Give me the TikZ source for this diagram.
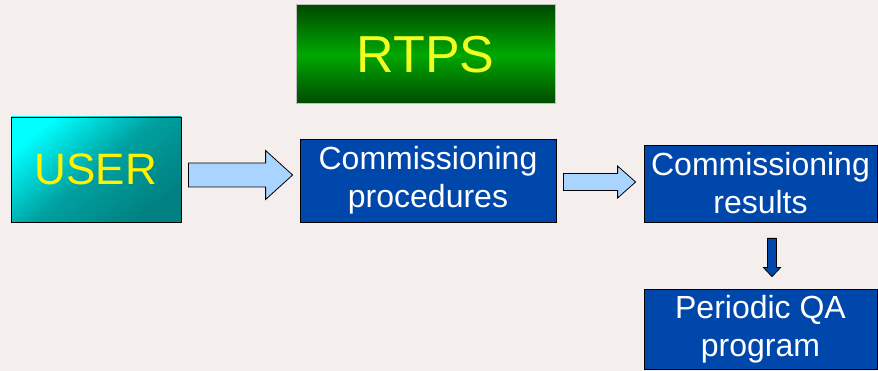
\documentclass[tikz,border=0pt]{standalone}
\usepackage{fontspec}
\setmainfont{Liberation Sans}
\usetikzlibrary{calc,positioning}
\definecolor{Paper}{HTML}{F4EFEC}
\definecolor{BoxBlue}{HTML}{0047AB}
\definecolor{ArrBlue}{HTML}{A8D4FF}
\definecolor{Lemon}{HTML}{F0FF20}
\definecolor{GreenHi}{HTML}{00A800}
\definecolor{GreenLo}{HTML}{004A00}
\definecolor{TealLo}{HTML}{008080}
\begin{document}
\begin{tikzpicture}[x=1pt,y=-1pt,
    box/.style={draw=black,fill=BoxBlue,text=white,align=center,inner sep=0pt,
      font=\fontsize{32}{38}\selectfont,line width=0.8pt},
    fat/.style={draw=black,fill=ArrBlue,line width=0.8pt,line join=miter}]
  \fill[Paper] (0,0) rectangle (878,371);
  \useasboundingbox (0,0) rectangle (878,371);
  % top banner
  \node[draw=gray!50,line width=1pt,top color=GreenLo,bottom color=GreenLo,
    middle color=GreenHi,minimum width=259pt,minimum height=99pt,text=Lemon,
    font=\fontsize{52}{52}\selectfont] (rtps) at (425.5,54.5) {RTPS};
  % boxes
  \node[draw=black,line width=0.8pt,top color=cyan,bottom color=TealLo,
    middle color=TealLo!75!cyan,shading angle=40,minimum width=170pt,minimum height=105pt,
    text=yellow,font=\fontsize{44}{44}\selectfont] (user) at (96,169.5) {USER};
  \node[box,minimum width=256pt,minimum height=83pt] (proc) at (428,180.5)
    {Commissioning\\procedures};
  \node[box,minimum width=233pt,minimum height=77pt] (res) at (760.5,183.5)
    {Commissioning\\results};
  \node[box,minimum width=233pt,minimum height=80pt] (qa) at (760.5,329)
    {Periodic QA\\program};
  % block arrows
  \draw[fat] let \p1=($(user.east)+(7,0)$), \p2=($(proc.west)+(-7,0)$),
      \p3=($(user.east)!0.5!(proc.west)$) in
    (\x1,\y3+12pt) -- (\x2-27pt,\y3+12pt) -- (\x2-27pt,\y3+24.5pt) -- (\x2,\y3)
    -- (\x2-27pt,\y3-24.5pt) -- (\x2-27pt,\y3-12pt) -- (\x1,\y3-12pt) -- cycle;
  \draw[fat] let \p1=($(proc.east)+(7,0)$), \p2=($(res.west)+(-8,0)$),
      \p3=($(proc.east)!0.5!(res.west)$) in
    (\x1,\y3+8.5pt) -- (\x2-18pt,\y3+8.5pt) -- (\x2-18pt,\y3+16pt) -- (\x2,\y3)
    -- (\x2-18pt,\y3-16pt) -- (\x2-18pt,\y3-8.5pt) -- (\x1,\y3-8.5pt) -- cycle;
  \draw[fat,fill=BoxBlue] let \p1=($(res.south)+(11.5,16)$), \p2=($(qa.north)+(11.5,-12)$) in
    (\x1-4.5pt,\y1) -- (\x1-4.5pt,\y2+9pt) -- (\x1-8.5pt,\y2+9pt) -- (\x1,\y2)
    -- (\x1+8.5pt,\y2+9pt) -- (\x1+4.5pt,\y2+9pt) -- (\x1+4.5pt,\y1) -- cycle;
\end{tikzpicture}
\end{document}
